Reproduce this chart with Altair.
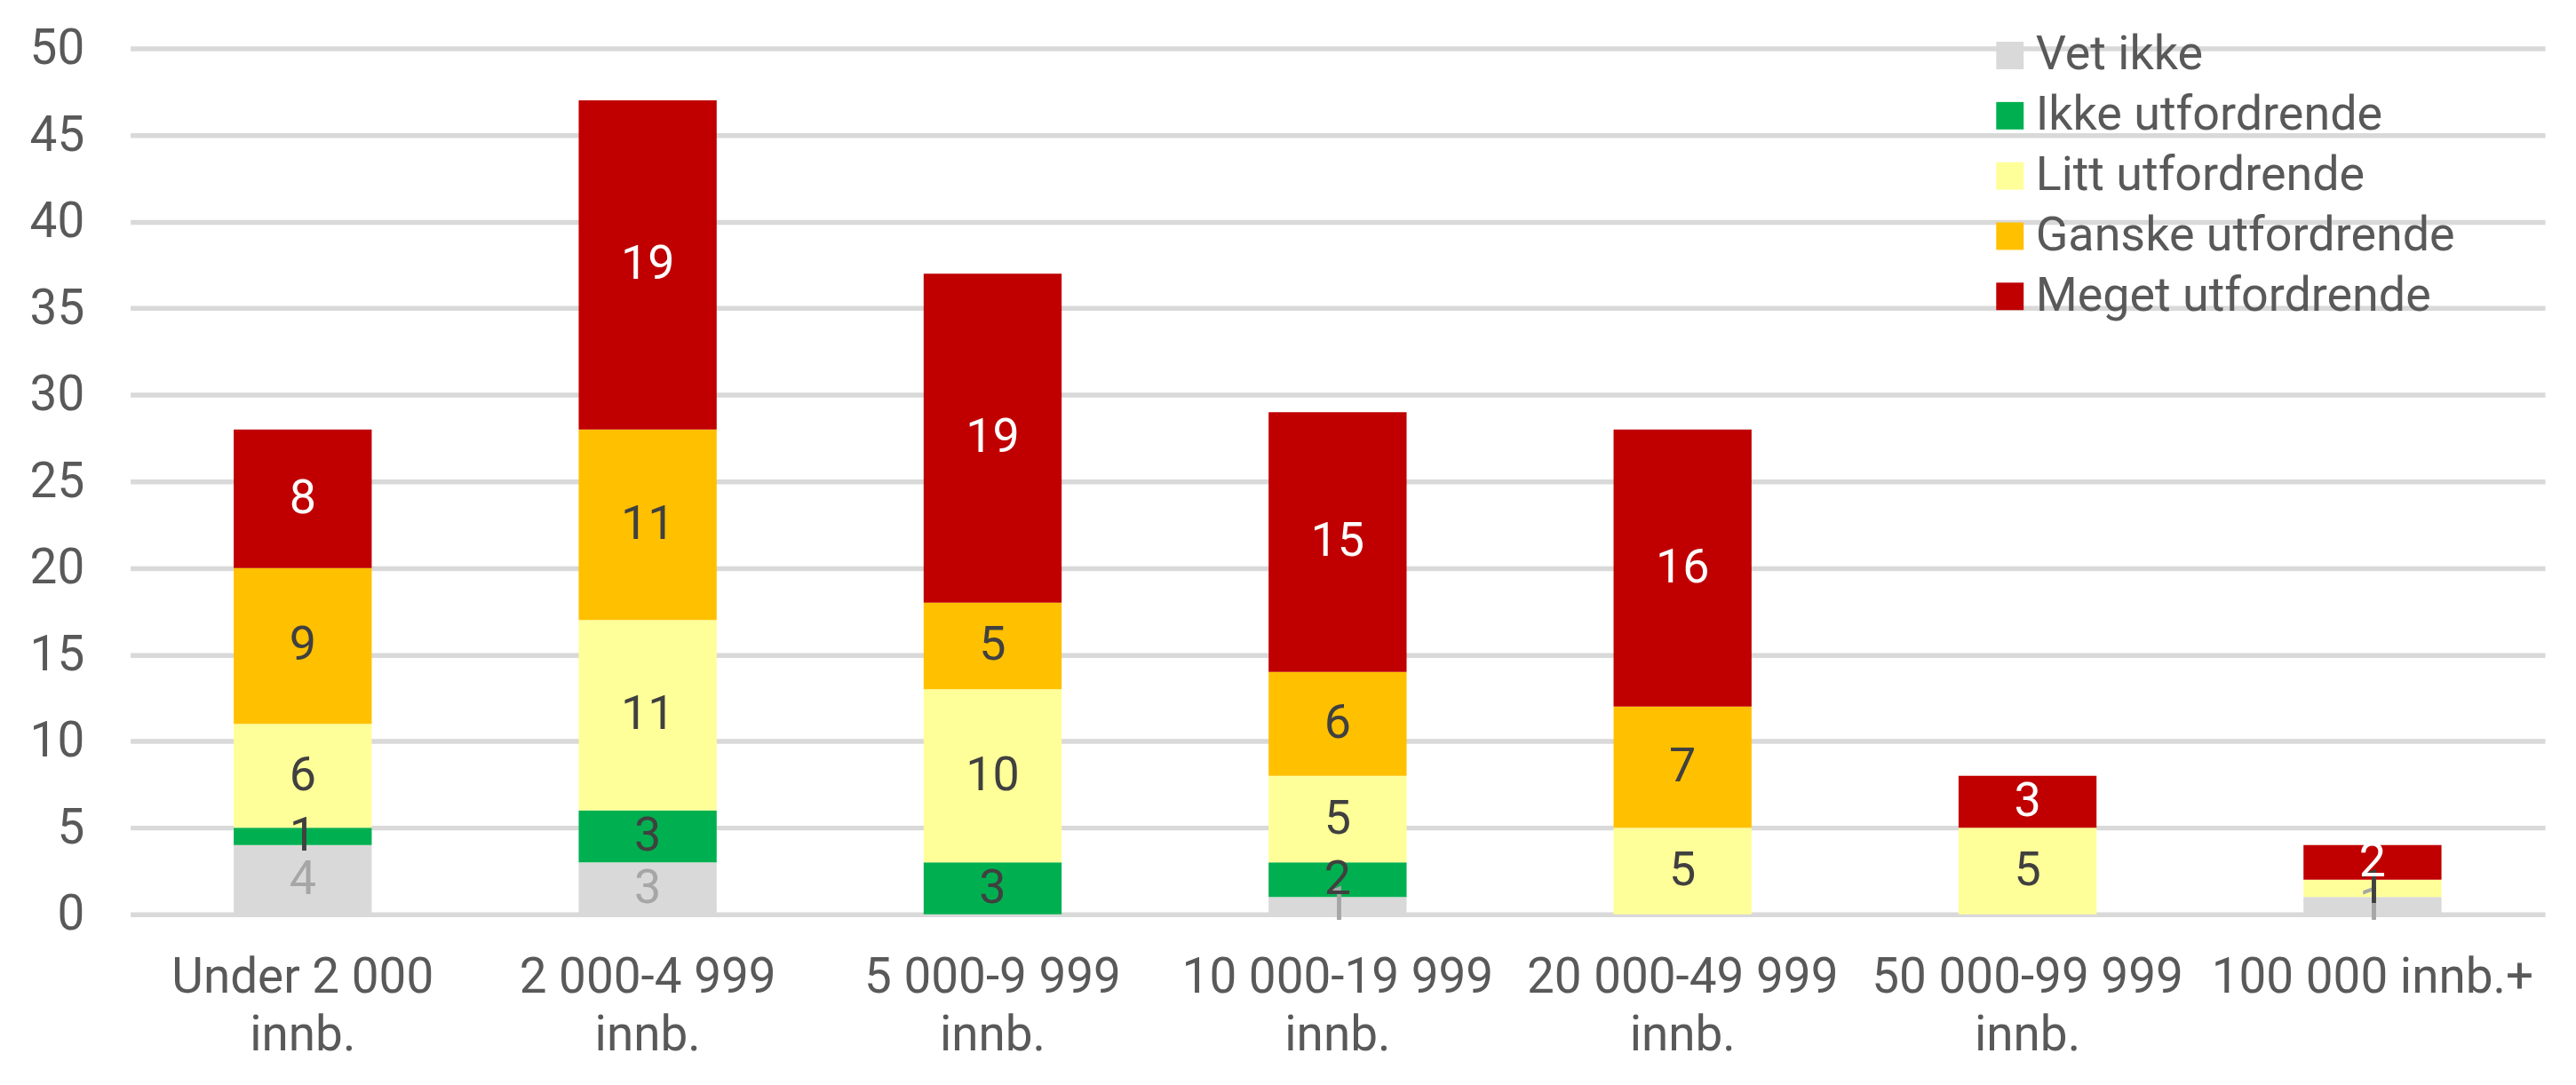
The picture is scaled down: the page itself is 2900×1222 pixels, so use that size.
import altair as alt
import pandas as pd

categories = ["Under 2 000 innb.", "2 000-4 999 innb.", "5 000-9 999 innb.",
              "10 000-19 999 innb.", "20 000-49 999 innb.", "50 000-99 999 innb.",
              "100 000 innb.+"]
series = ["Vet ikke", "Ikke utfordrende", "Litt utfordrende",
          "Ganske utfordrende", "Meget utfordrende"]
vet_ikke = [4, 3, 0, 1, 0, 0, 1]
ikke_utf = [1, 3, 3, 2, 0, 0, 0]
litt_utf = [6, 11, 10, 5, 5, 5, 1]
ganske_utf = [9, 11, 5, 6, 7, 0, 0]
meget_utf = [8, 19, 19, 15, 16, 3, 2]

bar_colors = ["#D9D9D9", "#00B050", "#FFFF99", "#FFC000", "#C00000"]
label_colors = ["#A6A6A6", "#404040", "#404040", "#404040", "#FFFFFF"]

rows = []
for si, (s, vals) in enumerate(zip(series, [vet_ikke, ikke_utf, litt_utf, ganske_utf, meget_utf])):
    for c, v in zip(categories, vals):
        if v > 0:
            rows.append({"cat": c, "series": s, "value": v, "ord": si,
                         "lcolor": label_colors[si]})
df = pd.DataFrame(rows)

FONT = "Roboto"
TXT = "#595959"

base = alt.Chart(df).transform_stack(
    stack="value", groupby=["cat"], sort=[alt.SortField("ord", order="ascending")],
    as_=["y0", "y1"]
).transform_calculate(mid="(datum.y0 + datum.y1) / 2")

xenc = alt.X("cat:N", sort=categories, title=None,
             scale=alt.Scale(paddingInner=0.6, paddingOuter=0.3),
             axis=alt.Axis(labelAngle=0, domain=False, ticks=False, labelPadding=45,
                           labelFontSize=55, labelFont=FONT, labelColor=TXT,
                           labelLineHeight=65, labelBaseline="top", labelLimit=0,
                           labelExpr="indexof(datum.value, '100 000') == 0 ? datum.value : [slice(datum.value, 0, indexof(datum.value, ' innb.')), 'innb.']"))

bars = base.mark_bar().encode(
    x=xenc,
    y=alt.Y("y0:Q", title=None, scale=alt.Scale(domain=[0, 50], nice=False),
            axis=alt.Axis(values=list(range(0, 51, 5)), domain=False, ticks=False,
                          grid=True, gridColor="#D9D9D9", gridWidth=5.5,
                          labelFontSize=55, labelFont=FONT, labelColor=TXT,
                          labelPadding=52)),
    y2="y1:Q",
    color=alt.Color("series:N", scale=alt.Scale(domain=series, range=bar_colors),
                    legend=alt.Legend(title=None, orient="none", legendX=2095, legendY=-19,
                                      symbolType="square", symbolSize=961,
                                      symbolStrokeWidth=0, labelFontSize=54,
                                      labelFont=FONT, labelColor=TXT, labelOffset=2,
                                      rowPadding=14, labelLimit=0, padding=0)),
)

labels = base.mark_text(font=FONT, fontSize=54, baseline="middle", align="center").encode(
    x=alt.X("cat:N", sort=categories),
    y="mid:Q",
    text="value:Q",
    color=alt.Color("lcolor:N", scale=None),
)

chart = alt.layer(bars, labels).properties(
    width=2726, height=978,
    autosize=alt.AutoSizeParams(type="none"),
    padding={"left": 139, "top": 45, "right": 27, "bottom": 190},
    background="white",
).configure_view(stroke=None)

chart.save("out.html", embed_options={"renderer": "svg", "actions": False})
